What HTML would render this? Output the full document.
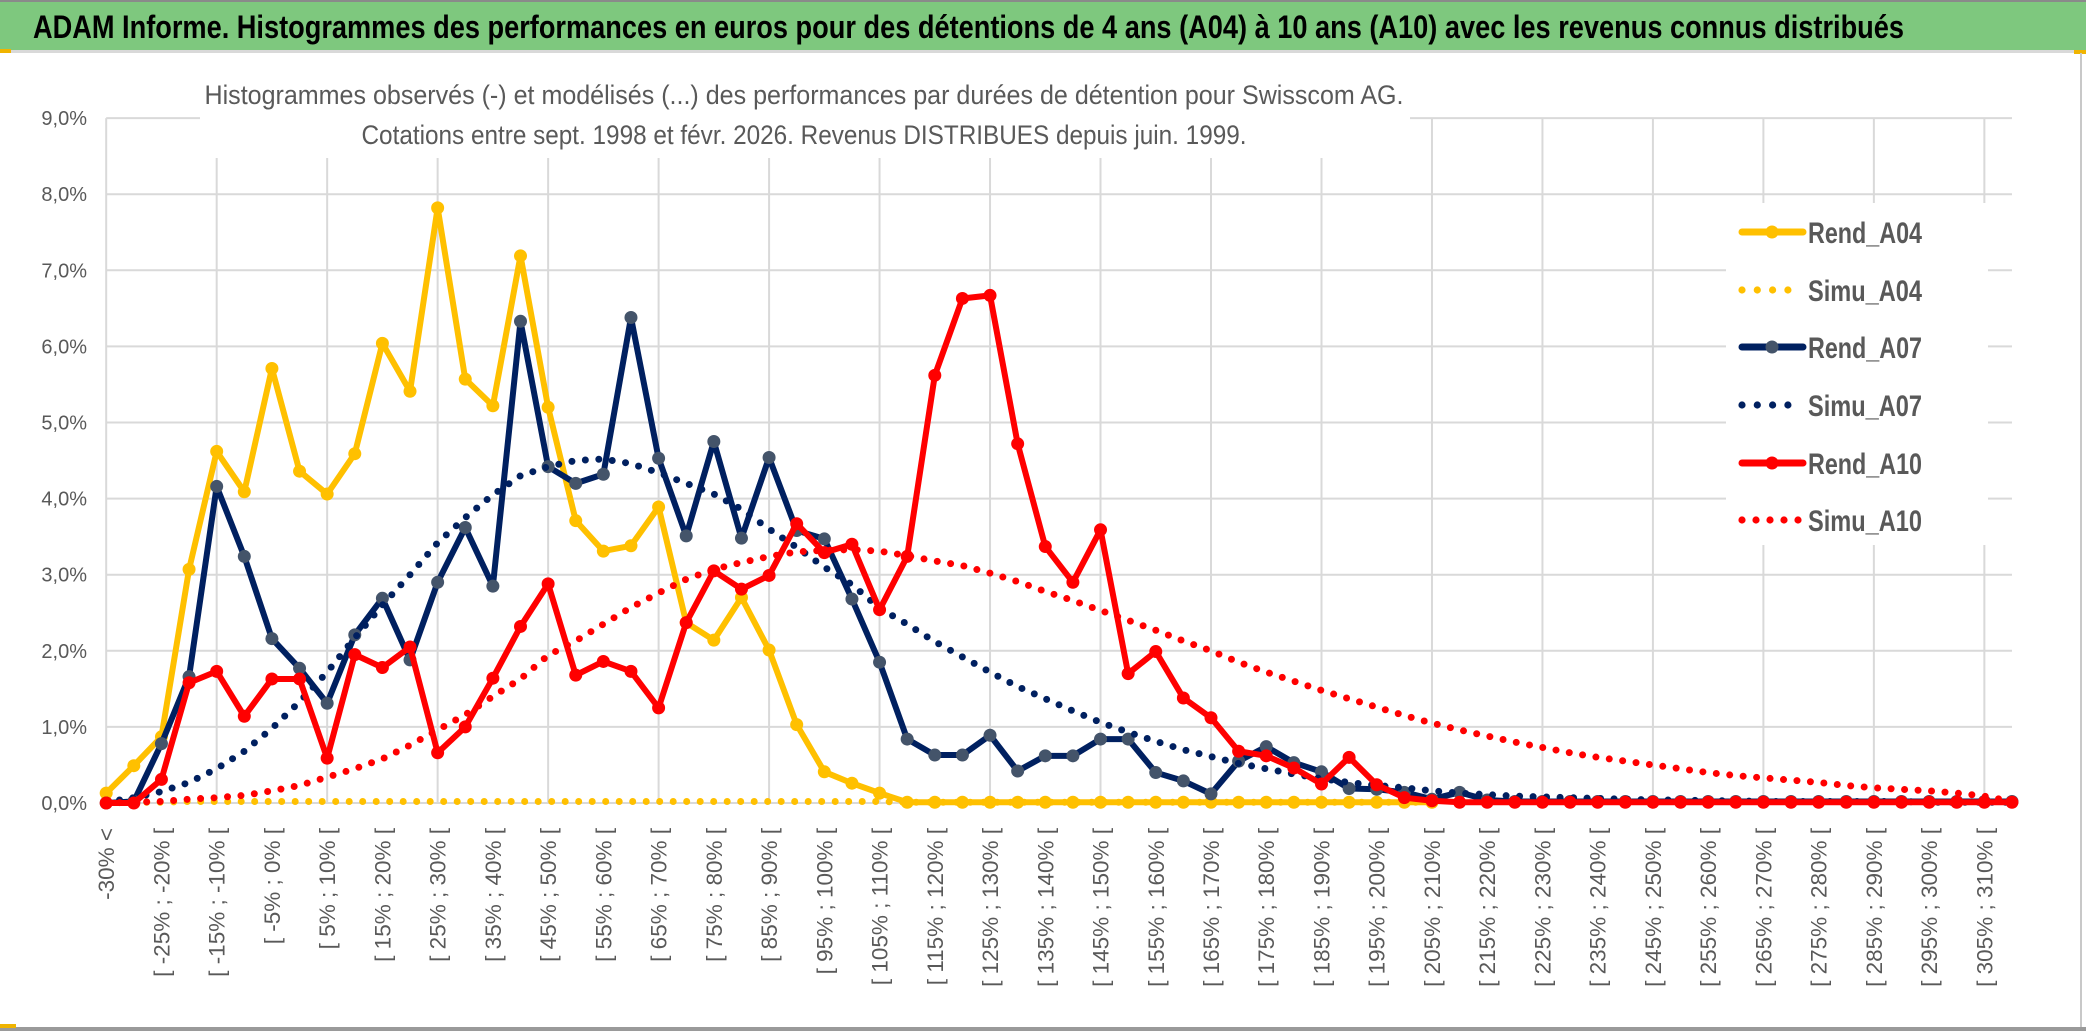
<!DOCTYPE html>
<html><head><meta charset="utf-8">
<style>
html,body{margin:0;padding:0;background:#fff;}
svg{display:block;font-family:"Liberation Sans",sans-serif;}
</style></head>
<body>
<svg id="chart" width="2086" height="1031" viewBox="0 0 2086 1031" xmlns="http://www.w3.org/2000/svg">
  <rect x="0" y="0" width="2086" height="1031" fill="#fff"/>
  <rect x="0" y="0" width="2086" height="50" fill="#7ec87e"/>
  <rect x="0" y="0" width="2086" height="2" fill="#8a8a8a"/>
  <rect x="0" y="50" width="2086" height="3" fill="#d9d9d9"/>
  <rect x="0" y="49" width="11" height="4" fill="#f0b400"/>
  <rect x="2074" y="50" width="12" height="4" fill="#f0b400"/>
  <text x="33" y="38" font-size="32" font-weight="bold" fill="#000" textLength="1871" lengthAdjust="spacingAndGlyphs">ADAM Informe. Histogrammes des performances en euros pour des détentions de 4 ans (A04) à 10 ans (A10) avec les revenus connus distribués</text>
  <rect x="2080" y="53" width="2" height="976" fill="#c8c8c8"/>
  <rect x="0" y="1027" width="2086" height="4" fill="#9a9a9a"/>
  <rect x="0" y="1024" width="16" height="4" fill="#f0b400"/>
  <g id="grid"></g>
  <g id="yaxis"></g>
  <g id="xaxis"></g>
  <rect x="200" y="60" width="1210" height="98" fill="#fff"/>
  <text x="804" y="104" font-size="27" fill="#595959" text-anchor="middle" textLength="1199" lengthAdjust="spacingAndGlyphs">Histogrammes observés (-) et modélisés (...) des performances par durées de détention pour Swisscom AG.</text>
  <text x="804" y="144" font-size="27" fill="#595959" text-anchor="middle" textLength="885" lengthAdjust="spacingAndGlyphs">Cotations entre sept. 1998 et févr. 2026. Revenus DISTRIBUES depuis juin. 1999.</text>
  <g id="series"></g>
  <g id="legend"></g>
</svg>
<script>
const yTicks = [0,1,2,3,4,5,6,7,8,9];
const yTickLabels = ["0,0%","1,0%","2,0%","3,0%","4,0%","5,0%","6,0%","7,0%","8,0%","9,0%"];
const categoryLows = [];
for (let k = 1; k < 70; k++) categoryLows.push(-35 + 5*k);
const rendA04 = [0.13,0.49,0.87,3.07,4.62,4.09,5.71,4.36,4.06,4.59,6.04,5.41,7.82,5.57,5.22,7.19,5.20,3.71,3.31,3.38,3.89,2.37,2.14,2.70,2.01,1.03,0.41,0.26,0.13,0.01,0.01,0.01,0.01,0.01,0.01,0.01,0.01,0.01,0.01,0.01,0.01,0.01,0.01,0.01,0.01,0.01,0.01,0.01,0.01];
const simuA04 = [0.01,0.01,0.01,0.02,0.02,0.02,0.02,0.02,0.02,0.02,0.02,0.02,0.02,0.02,0.02,0.02,0.02,0.02,0.02,0.02,0.02,0.02,0.02,0.02,0.02,0.02,0.02,0.02,0.02,0.01,0.01,0.01,0.01,0.01,0.01,0.01,0.01,0.01,0.01,0.01,0.01,0.01,0.01,0.01,0.01,0.01,0.01,0.01,0.01];
const rendA07 = [0,0.02,0.78,1.66,4.16,3.24,2.16,1.77,1.31,2.21,2.69,1.88,2.90,3.62,2.85,6.33,4.42,4.20,4.32,6.38,4.53,3.51,4.75,3.48,4.54,3.58,3.47,2.68,1.85,0.84,0.63,0.63,0.89,0.42,0.62,0.62,0.84,0.84,0.40,0.29,0.12,0.55,0.74,0.53,0.41,0.19,0.18,0.14,0.05,0.14,0.04,0.02,0.02,0.02,0.02,0.02,0.02,0.02,0.02,0.02,0.02,0.02,0.02,0.02,0.02,0.02,0.02,0.02,0.02,0.02];
const simuA07 = [0.01,0.07,0.15,0.27,0.45,0.68,0.98,1.33,1.72,2.17,2.60,3.00,3.42,3.75,4.05,4.30,4.42,4.50,4.52,4.46,4.34,4.20,4.06,3.86,3.60,3.36,3.10,2.87,2.56,2.35,2.12,1.92,1.72,1.53,1.37,1.21,1.06,0.93,0.81,0.70,0.61,0.52,0.45,0.38,0.32,0.27,0.23,0.20,0.16,0.13,0.11,0.09,0.08,0.07,0.06,0.05,0.04,0.04,0.03,0.03,0.02,0.02,0.02,0.02,0.02,0.02,0.01,0.01,0.01,0.01];
const rendA10 = [0,0,0.31,1.58,1.73,1.14,1.63,1.63,0.59,1.95,1.78,2.05,0.66,1.00,1.64,2.32,2.88,1.68,1.86,1.73,1.25,2.37,3.05,2.81,2.99,3.67,3.29,3.40,2.54,3.24,5.62,6.63,6.67,4.72,3.37,2.90,3.59,1.70,1.99,1.38,1.12,0.68,0.62,0.46,0.25,0.60,0.24,0.07,0.03,0.01,0.01,0.01,0.01,0.01,0.01,0.01,0.01,0.01,0.01,0.01,0.01,0.01,0.01,0.01,0.01,0.01,0.01,0.01,0.01,0.01];
const simuA10 = [0,0.01,0.02,0.05,0.07,0.10,0.16,0.23,0.34,0.45,0.58,0.76,0.96,1.16,1.40,1.63,1.94,2.13,2.35,2.57,2.76,2.94,3.07,3.16,3.24,3.30,3.32,3.33,3.31,3.25,3.18,3.12,3.02,2.91,2.78,2.66,2.53,2.40,2.27,2.13,2.00,1.85,1.72,1.60,1.48,1.37,1.26,1.15,1.05,0.96,0.88,0.80,0.73,0.66,0.60,0.55,0.50,0.45,0.40,0.36,0.33,0.30,0.27,0.23,0.20,0.18,0.16,0.13,0.09,0.02];

const NS = "http://www.w3.org/2000/svg";
const X0 = 106.2, DX = 27.62, Y0 = 803, DY = 76.1;
function xPos(i){ return X0 + i*DX; }
function yPos(v){ return Y0 - v*DY; }
function mk(tag, attrs, parent){
  const e = document.createElementNS(NS, tag);
  for (const k in attrs) e.setAttribute(k, attrs[k]);
  parent.appendChild(e);
  return e;
}
const grid = document.getElementById('grid');
const yaxis = document.getElementById('yaxis');
const xaxis = document.getElementById('xaxis');
const nCat = categoryLows.length + 1;
const xEnd = xPos(nCat - 1);

yTicks.forEach((t, j) => {
  const l = mk('line', {x1: X0, x2: xEnd, y1: yPos(t), y2: yPos(t), stroke: '#d9d9d9', 'stroke-width': 2}, grid);
  
  
  const tx = mk('text', {x: 87, y: yPos(t) + 7, 'font-size': 20, fill: '#595959', 'text-anchor': 'end'}, yaxis);
  tx.textContent = yTickLabels[j];
  
  
});
for (let i = 0; i < nCat; i += 4) {
  const l = mk('line', {x1: xPos(i), x2: xPos(i), y1: yPos(9), y2: Y0, stroke: '#d9d9d9', 'stroke-width': 2}, grid);
  
  
}
function catLabel(i){
  if (i === 0) return "-30% <";
  const lo = categoryLows[i-1];
  return "[ " + lo + "% ; " + (lo + 5) + "% [";
}
for (let i = 0; i < nCat; i += 2) {
  const t = mk('text', {transform: 'translate(' + (xPos(i) + 8) + ',828) rotate(-90)', 'font-size': 22.5, fill: '#595959', 'text-anchor': 'end'}, xaxis);
  t.textContent = catLabel(i);
  
  
}

const series = document.getElementById('series');
function drawSolid(data, color, markerColor, name){
  const g = mk('g', {}, series);
  
  
  const pts = data.map((v, i) => xPos(i) + ',' + yPos(v)).join(' ');
  const pl = mk('polyline', {points: pts, fill: 'none', stroke: color, 'stroke-width': 6, 'stroke-linejoin': 'round', 'stroke-linecap': 'round'}, g);
  
  
  data.forEach((v, i) => {
    const c = mk('circle', {cx: xPos(i), cy: yPos(v), r: 6.5, fill: markerColor}, g);
    
    
  });
}
function drawDotted(data, color, name){
  const g = mk('g', {}, series);
  
  
  const pts = data.map((v, i) => xPos(i) + ',' + yPos(v)).join(' ');
  const pl = mk('polyline', {points: pts, fill: 'none', stroke: color, 'stroke-width': 7, 'stroke-linecap': 'round', 'stroke-dasharray': '0 13.5'}, g);
  
  
}
drawSolid(rendA04, '#ffc000', '#ffc000', 'rend-a04-series');
drawDotted(simuA04, '#ffc000', 'simu-a04-series');
drawSolid(rendA07, '#002060', '#44546a', 'rend-a07-series');
drawDotted(simuA07, '#002060', 'simu-a07-series');
drawSolid(rendA10, '#ff0000', '#ff0000', 'rend-a10-series');
drawDotted(simuA10, '#ff0000', 'simu-a10-series');

const legend = document.getElementById('legend');
const bg = mk('rect', {x: 1726, y: 203, width: 262, height: 342, fill: '#fff'}, legend);


const legendNames = ["Rend_A04","Simu_A04","Rend_A07","Simu_A07","Rend_A10","Simu_A10"];
const legendColors = ['#ffc000','#ffc000','#002060','#002060','#ff0000','#ff0000'];
const legendMarkers = ['#ffc000', null, '#44546a', null, '#ff0000', null];
const legendYs = [232, 290, 347, 405, 463, 520];
legendNames.forEach((nm, k) => {
  const g = mk('g', {}, legend);
  
  
  const y = legendYs[k];
  if (legendMarkers[k]) {
    mk('line', {x1: 1742, x2: 1803, y1: y, y2: y, stroke: legendColors[k], 'stroke-width': 7, 'stroke-linecap': 'round'}, g);
    mk('circle', {cx: 1772, cy: y, r: 6.5, fill: legendMarkers[k]}, g);
  } else {
    const n = (k === 5) ? 5 : 4;
    for (let d = 0; d < n; d++) mk('circle', {cx: 1742 + d*(k === 5 ? 14 : 15.3), cy: y, r: 3.6, fill: legendColors[k]}, g);
  }
  const t = mk('text', {x: 1808, y: y + 11, 'font-size': 30, 'font-weight': 'bold', fill: '#595959', textLength: 114, lengthAdjust: 'spacingAndGlyphs'}, g);
  t.textContent = nm;
});
</script>
</body></html>
